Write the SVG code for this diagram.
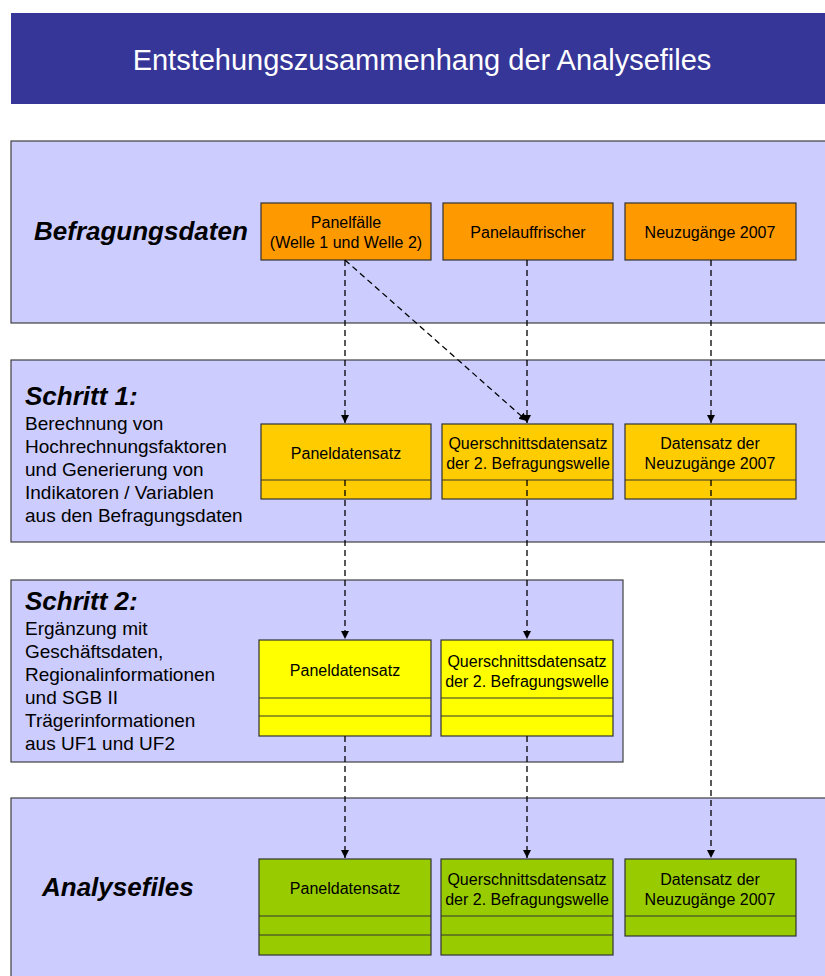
<svg xmlns="http://www.w3.org/2000/svg" width="825" height="976" viewBox="0 0 825 976">
<style>
.panel{fill:#CCCCFF;stroke:#404040;stroke-width:1.2}
.box{stroke:#333;stroke-width:1.2}
.sep{stroke:#333;stroke-width:1.2}
.bt{font-family:"Liberation Sans",Arial,sans-serif;font-size:16px;fill:#000;text-anchor:middle}
.head{font-family:"Liberation Sans",Arial,sans-serif;font-size:26px;font-weight:bold;font-style:italic;fill:#000}
.body{font-family:"Liberation Sans",Arial,sans-serif;font-size:19px;fill:#000}
.dash{stroke:#000;stroke-width:1.3;stroke-dasharray:6,4;fill:none}
</style>
<defs>
<marker id="ah" markerWidth="10" markerHeight="10" refX="8" refY="4" orient="auto" markerUnits="userSpaceOnUse">
<path d="M0,0 L8,4 L0,8 Z" fill="#000"/>
</marker>
</defs>
<rect width="825" height="976" fill="#fff"/>
<g id="title">
<rect x="11" y="13" width="814" height="91" fill="#363699"/>
<text x="422" y="70" font-family="'Liberation Sans',Arial,sans-serif" font-size="29" fill="#fff" text-anchor="middle">Entstehungszusammenhang der Analysefiles</text>
</g>
<g id="panel-befragung">
<rect class="panel" x="11" y="141" width="820" height="182"/>
<text class="head" x="34" y="240">Befragungsdaten</text>
</g>
<g id="panel-schritt1">
<rect class="panel" x="11" y="360" width="820" height="182"/>
<text class="head" x="25" y="405">Schritt 1:</text>
<text class="body" x="25" y="430">Berechnung von</text>
<text class="body" x="25" y="453">Hochrechnungsfaktoren</text>
<text class="body" x="25" y="476">und Generierung von</text>
<text class="body" x="25" y="499">Indikatoren / Variablen</text>
<text class="body" x="25" y="522">aus den Befragungsdaten</text>
</g>
<g id="panel-schritt2">
<rect class="panel" x="11" y="580" width="612" height="182"/>
<text class="head" x="25" y="610">Schritt 2:</text>
<text class="body" x="25" y="635">Ergänzung mit</text>
<text class="body" x="25" y="658">Geschäftsdaten,</text>
<text class="body" x="25" y="681">Regionalinformationen</text>
<text class="body" x="25" y="704">und SGB II</text>
<text class="body" x="25" y="727">Trägerinformationen</text>
<text class="body" x="25" y="750">aus UF1 und UF2</text>
</g>
<g id="panel-analyse">
<rect class="panel" x="11" y="798" width="820" height="190"/>
<text class="head" x="42" y="896">Analysefiles</text>
</g>
<g id="n-panelfaelle">
<rect class="box" x="261" y="203" width="170" height="57" fill="#FF9900"/>
<text class="bt" x="346" y="228">Panelfälle</text>
<text class="bt" x="346" y="248">(Welle 1 und Welle 2)</text>
</g>
<g id="n-panelauffrischer">
<rect class="box" x="443" y="203" width="170" height="57" fill="#FF9900"/>
<text class="bt" x="528" y="238">Panelauffrischer</text>
</g>
<g id="n-neuzugaenge">
<rect class="box" x="625" y="203" width="171" height="57" fill="#FF9900"/>
<text class="bt" x="710" y="238">Neuzugänge 2007</text>
</g>
<g id="n-s1-panel">
<rect class="box" x="261" y="424" width="170" height="75" fill="#FFCC00"/>
<line class="sep" x1="261" y1="480" x2="431" y2="480"/>
<text class="bt" x="346" y="459">Paneldatensatz</text>
</g>
<g id="n-s1-quer">
<rect class="box" x="442" y="424" width="171" height="75" fill="#FFCC00"/>
<line class="sep" x1="442" y1="480" x2="613" y2="480"/>
<text class="bt" x="528" y="449">Querschnittsdatensatz</text>
<text class="bt" x="528" y="469">der 2. Befragungswelle</text>
</g>
<g id="n-s1-neu">
<rect class="box" x="625" y="424" width="171" height="75" fill="#FFCC00"/>
<line class="sep" x1="625" y1="480" x2="796" y2="480"/>
<text class="bt" x="710" y="449">Datensatz der</text>
<text class="bt" x="710" y="469">Neuzugänge 2007</text>
</g>
<g id="n-s2-panel">
<rect class="box" x="259" y="640" width="172" height="96" fill="#FFFF00"/>
<line class="sep" x1="259" y1="698" x2="431" y2="698"/>
<line class="sep" x1="259" y1="716" x2="431" y2="716"/>
<text class="bt" x="345" y="676">Paneldatensatz</text>
</g>
<g id="n-s2-quer">
<rect class="box" x="441" y="640" width="172" height="96" fill="#FFFF00"/>
<line class="sep" x1="441" y1="698" x2="613" y2="698"/>
<line class="sep" x1="441" y1="716" x2="613" y2="716"/>
<text class="bt" x="527" y="667">Querschnittsdatensatz</text>
<text class="bt" x="527" y="687">der 2. Befragungswelle</text>
</g>
<g id="n-a-panel">
<rect class="box" x="259" y="859" width="172" height="96" fill="#99CC00"/>
<line class="sep" x1="259" y1="916" x2="431" y2="916"/>
<line class="sep" x1="259" y1="935" x2="431" y2="935"/>
<text class="bt" x="345" y="894">Paneldatensatz</text>
</g>
<g id="n-a-quer">
<rect class="box" x="441" y="859" width="172" height="96" fill="#99CC00"/>
<line class="sep" x1="441" y1="916" x2="613" y2="916"/>
<line class="sep" x1="441" y1="935" x2="613" y2="935"/>
<text class="bt" x="527" y="885">Querschnittsdatensatz</text>
<text class="bt" x="527" y="905">der 2. Befragungswelle</text>
</g>
<g id="n-a-neu">
<rect class="box" x="625" y="859" width="171" height="77" fill="#99CC00"/>
<line class="sep" x1="625" y1="916" x2="796" y2="916"/>
<text class="bt" x="710" y="885">Datensatz der</text>
<text class="bt" x="710" y="905">Neuzugänge 2007</text>
</g>
<g id="connectors">
<line class="dash" x1="345" y1="260" x2="345" y2="423" marker-end="url(#ah)"/>
<line class="dash" x1="527" y1="260" x2="527" y2="423" marker-end="url(#ah)"/>
<line class="dash" x1="711" y1="260" x2="711" y2="423" marker-end="url(#ah)"/>
<line class="dash" x1="345" y1="260" x2="527" y2="421" marker-end="url(#ah)"/>
<line class="dash" x1="345" y1="480" x2="345" y2="639" marker-end="url(#ah)"/>
<line class="dash" x1="527" y1="480" x2="527" y2="639" marker-end="url(#ah)"/>
<line class="dash" x1="711" y1="480" x2="711" y2="858" marker-end="url(#ah)"/>
<line class="dash" x1="345" y1="736" x2="345" y2="858" marker-end="url(#ah)"/>
<line class="dash" x1="527" y1="736" x2="527" y2="858" marker-end="url(#ah)"/>
</g>
</svg>
